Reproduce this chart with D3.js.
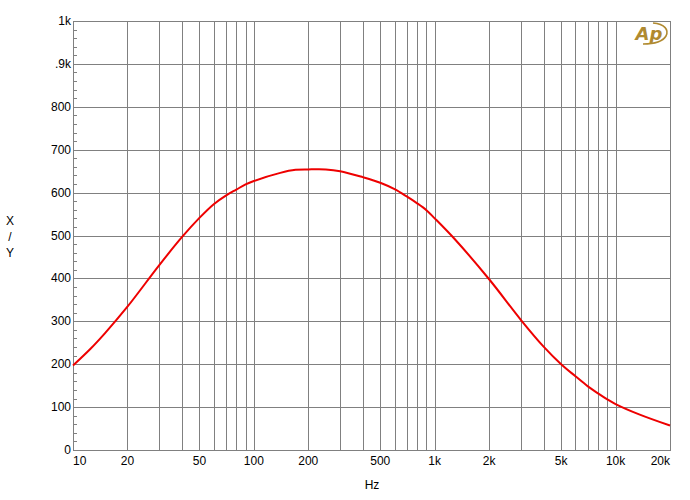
<!DOCTYPE html>
<html>
<head>
<meta charset="utf-8">
<script src="https://cdn.jsdelivr.net/npm/d3@7.9.0/dist/d3.min.js"></script>
<style>
  body { margin: 0; background: #fff; }
  text { font-family: "Liberation Sans", Arial, sans-serif; font-size: 12px; fill: #000; }
</style>
</head>
<body>
<svg id="chart"></svg>
<script>
// Response curve (Hz -> X/Y)
const freqs = [10, 12.5, 15, 20, 30, 40, 50, 60, 70, 80, 90, 100, 140, 170, 200, 250, 300, 400, 500, 600, 700, 800, 900,
  1000, 1300, 2000, 3000, 4000, 5000, 6000, 7000, 8000, 9000, 10000, 13500, 20000];
const values = [197, 236, 272, 334, 431, 496, 541, 573, 593, 607, 619, 627, 646, 653, 654, 654, 650, 636, 623, 608, 591, 575, 559,
  540, 490, 398, 303, 241, 200, 172, 149, 132, 118, 107, 83, 57];

const xTickValues = [10, 20, 50, 100, 200, 500, 1000, 2000, 5000, 10000, 20000];
const xTickLabels = ['10', '20', '50', '100', '200', '500', '1k', '2k', '5k', '10k', '20k'];
const yTickValues = [0, 100, 200, 300, 400, 500, 600, 700, 800, 900, 1000];
const yLabels = ['0', '100', '200', '300', '400', '500', '600', '700', '800', '.9k', '1k'];

const width = 690;
const height = 500;
const margin = { top: 21, right: 20, bottom: 50, left: 73 };

const svg = d3.select('#chart')
  .attr('width', width)
  .attr('height', height);

const xScale = d3.scaleLog()
  .domain([10, 20000])
  .range([margin.left, width - margin.right]);

const yScale = d3.scaleLinear()
  .domain([0, 1000])
  .range([height - margin.bottom, margin.top]);

const grey = '#808080';

// vertical gridlines at every 1..9 multiple
const gridX = [];
for (let dec = 10; dec < 20000; dec *= 10) {
  for (let m = 1; m <= 9; m++) {
    const f = dec * m;
    if (f > 10 && f < 20000) gridX.push(f);
  }
}

svg.append('g')
  .selectAll('line')
  .data(gridX)
  .join('line')
  .attr('x1', d => Math.round(xScale(d)) + 0.5)
  .attr('x2', d => Math.round(xScale(d)) + 0.5)
  .attr('y1', yScale(1000))
  .attr('y2', yScale(0))
  .attr('stroke', grey);

// horizontal gridlines
svg.append('g')
  .selectAll('line')
  .data(yTickValues.slice(1, -1))
  .join('line')
  .attr('x1', xScale(10))
  .attr('x2', xScale(20000))
  .attr('y1', d => Math.round(yScale(d)) + 0.5)
  .attr('y2', d => Math.round(yScale(d)) + 0.5)
  .attr('stroke', grey);

// minor ticks on the left edge
const minorY = d3.range(20, 1000, 20).filter(d => d % 100 !== 0);
svg.append('g')
  .selectAll('line')
  .data(minorY)
  .join('line')
  .attr('x1', xScale(10))
  .attr('x2', xScale(10) + 4)
  .attr('y1', d => Math.round(yScale(d)) + 0.5)
  .attr('y2', d => Math.round(yScale(d)) + 0.5)
  .attr('stroke', grey);

// frame
svg.append('rect')
  .attr('x', Math.round(xScale(10)) + 0.5)
  .attr('y', Math.round(yScale(1000)) + 0.5)
  .attr('width', Math.round(xScale(20000)) - Math.round(xScale(10)))
  .attr('height', Math.round(yScale(0)) - Math.round(yScale(1000)))
  .attr('fill', 'none')
  .attr('stroke', grey);

// y labels
svg.append('g')
  .selectAll('text')
  .data(yTickValues)
  .join('text')
  .attr('x', xScale(10) - 2)
  .attr('y', d => yScale(d) + 4)
  .attr('text-anchor', 'end')
  .text((d, i) => yLabels[i]);

// x labels
svg.append('g')
  .selectAll('text')
  .data(xTickValues)
  .join('text')
  .attr('x', d => xScale(d))
  .attr('y', height - margin.bottom + 15)
  .attr('text-anchor', (d, i) => i === 0 ? 'start' : (i === xTickValues.length - 1 ? 'end' : 'middle'))
  .text((d, i) => xTickLabels[i]);

// axis titles
svg.append('text')
  .attr('x', 372)
  .attr('y', 489)
  .attr('text-anchor', 'middle')
  .text('Hz');

svg.append('g')
  .selectAll('text')
  .data(['X', '/', 'Y'])
  .join('text')
  .attr('x', 10)
  .attr('y', (d, i) => 225 + i * 16)
  .attr('text-anchor', 'middle')
  .text(d => d);

// curve
const line = d3.line()
  .x((d, i) => xScale(freqs[i]))
  .y(d => yScale(d))
  .curve(d3.curveCatmullRom.alpha(0.5));

svg.append('path')
  .datum(values)
  .attr('d', line)
  .attr('fill', 'none')
  .attr('stroke', '#ee0000')
  .attr('stroke-width', 2);

// AP logo
const gold = '#b08a30';
const logo = svg.append('g').attr('transform', 'translate(651, 34)');
logo.append('path')
  .attr('d', 'M 2 -11 C 14 -10 18 -4 15 2 C 12 7 4 10 -8 10')
  .attr('fill', 'none')
  .attr('stroke', gold)
  .attr('stroke-width', 1.6);
logo.append('text')
  .attr('x', -2)
  .attr('y', 6)
  .attr('text-anchor', 'middle')
  .style('font-size', '18px')
  .style('font-style', 'italic')
  .style('font-weight', 'bold')
  .style('fill', gold)
  .style('font-family', '"DejaVu Sans", sans-serif')
  .text('Ap');
</script>
</body>
</html>
